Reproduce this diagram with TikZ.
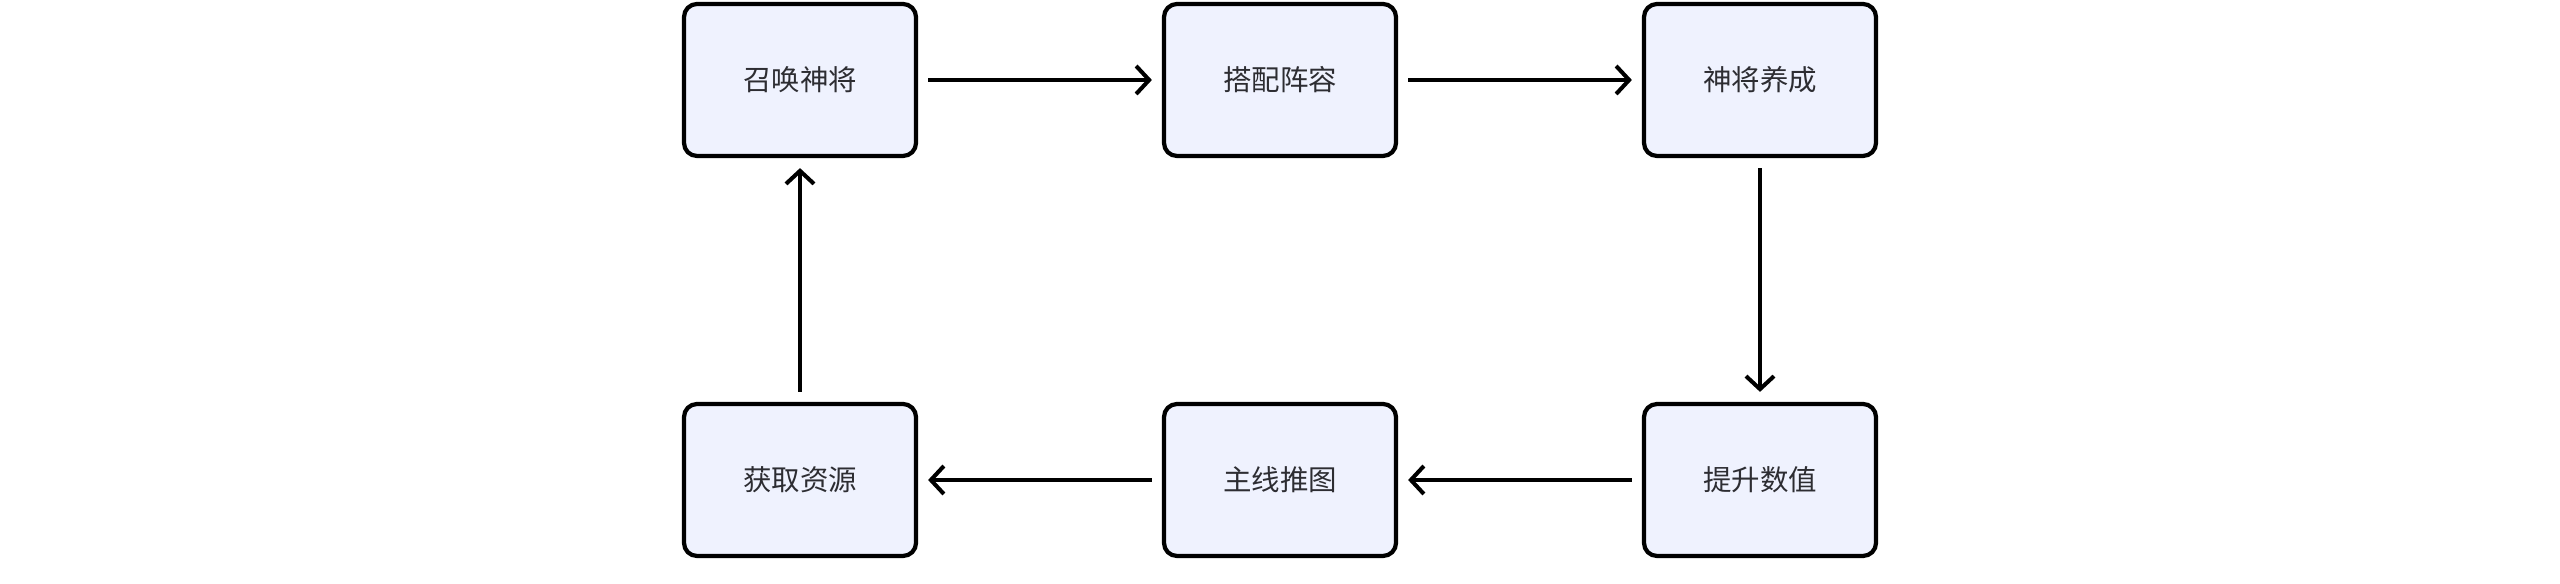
\documentclass[tikz,border=0pt]{standalone}
\usepackage{fontspec}
\setmainfont{Noto Sans CJK SC}
\usetikzlibrary{arrows.meta}
\definecolor{boxfill}{RGB}{239,242,254}
\definecolor{boxtext}{RGB}{45,45,50}
\tikzset{
  stage/.style={draw, line width=1.2pt, rounded corners=0.13cm, fill=boxfill,
    minimum width=2.32cm, minimum height=1.52cm, inner sep=0,
    text=boxtext, font=\fontsize{8.1}{9.5}\selectfont},
  flow/.style={-{Straight Barb[length=0.13cm, width=0.28cm, line width=1.15pt]},
    line width=1.15pt, shorten <=0.1cm, shorten >=0.1cm}
}
\begin{document}
\begin{tikzpicture}
\useasboundingbox (0,0) rectangle (25.6,-5.84);
\node[stage] (s1) at (8.00,-0.80) {召唤神将};
\node[stage] (s2) at (12.80,-0.80) {搭配阵容};
\node[stage] (s3) at (17.60,-0.80) {神将养成};
\node[stage] (s4) at (17.60,-4.80) {提升数值};
\node[stage] (s5) at (12.80,-4.80) {主线推图};
\node[stage] (s6) at (8.00,-4.80) {获取资源};
% Arrows
\draw[flow] (s1) -- (s2);
\draw[flow] (s2) -- (s3);
\draw[flow] (s3) -- (s4);
\draw[flow] (s4) -- (s5);
\draw[flow] (s5) -- (s6);
\draw[flow] (s6) -- (s1);
\end{tikzpicture}
\end{document}
